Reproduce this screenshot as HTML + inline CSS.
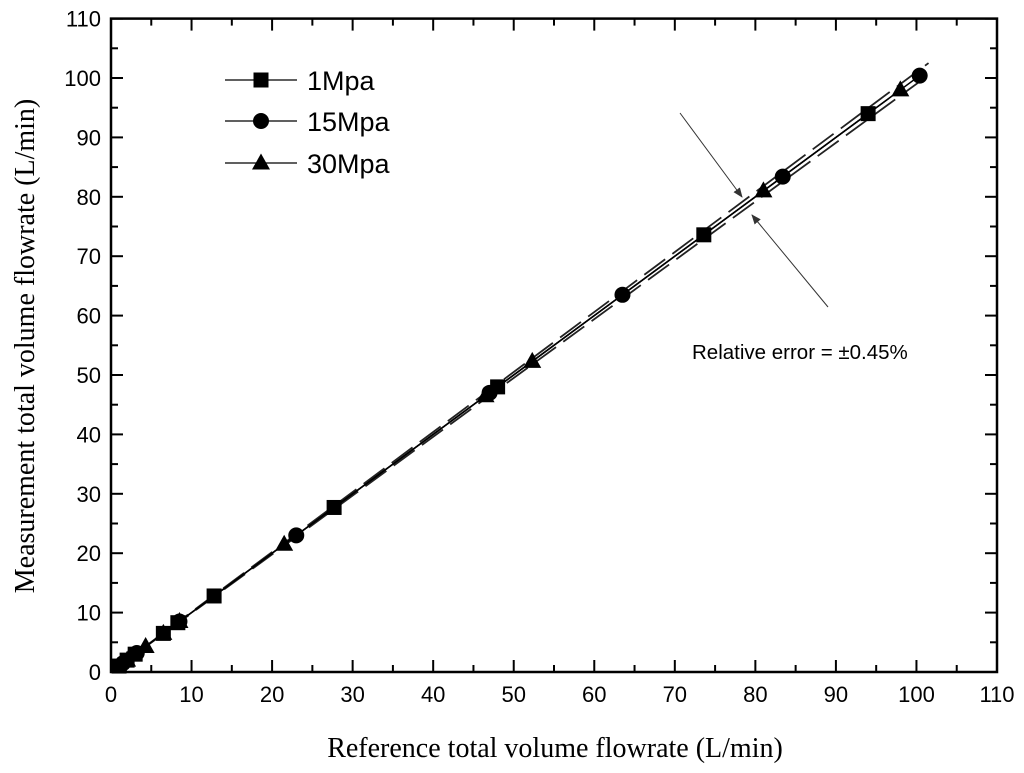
<!DOCTYPE html>
<html><head><meta charset="utf-8"><style>body{margin:0;background:#fff}svg{display:block}</style></head>
<body>
<svg id="c" width="1024" height="773" xmlns="http://www.w3.org/2000/svg"></svg>
<script>
const xTicks=[0,10,20,30,40,50,60,70,80,90,100,110];
const yTicks=[0,10,20,30,40,50,60,70,80,90,100,110];
const s1x=[1,2,3,6.5,8.3,12.8,27.7,48,73.6,94];
const s1y=[1,2,3,6.5,8.3,12.8,27.7,48,73.6,94];
const s2x=[1.5,3.2,8.5,23,47,63.5,83.4,100.4];
const s2y=[1.5,3.2,8.5,23,47,63.5,83.4,100.4];
const s3x=[1,2,4.3,6.5,8.5,21.5,46.5,52.3,81,98];
const s3y=[1,2,4.3,6.5,8.5,21.5,46.5,52.3,81,98];
const errPct=[1.0];
const L=111,R=997,T=18.6,B=672;
const X=v=>L+(R-L)*v/110, Y=v=>B-(B-T)*v/110;
const svg=document.getElementById('c');const NS='http://www.w3.org/2000/svg';
function el(t,a,p){const e=document.createElementNS(NS,t);for(const k in a)e.setAttribute(k,a[k]);(p||svg).appendChild(e);return e;}
let e;
e=el('rect',{x:L,y:T,width:R-L,height:B-T,fill:'none',stroke:'#000','stroke-width':2.5});


xTicks.forEach((v,i)=>{const x=X(v);
 el('line',{x1:x,y1:B,x2:x,y2:B-12,stroke:'#000','stroke-width':2});
 el('line',{x1:x,y1:T,x2:x,y2:T+12,stroke:'#000','stroke-width':2});
 if(i<xTicks.length-1){const xm=X(v+5);el('line',{x1:xm,y1:B,x2:xm,y2:B-7,stroke:'#000','stroke-width':2});el('line',{x1:xm,y1:T,x2:xm,y2:T+7,stroke:'#000','stroke-width':2});}
 const t=el('text',{x:x,y:B+30,'text-anchor':'middle','font-family':'Liberation Sans,sans-serif','font-size':22});t.textContent=v;
 
 
});
yTicks.forEach((v,i)=>{const y=Y(v);
 el('line',{x1:L,y1:y,x2:L+12,y2:y,stroke:'#000','stroke-width':2});
 el('line',{x1:R,y1:y,x2:R-12,y2:y,stroke:'#000','stroke-width':2});
 if(i<yTicks.length-1){const ym=Y(v+5);el('line',{x1:L,y1:ym,x2:L+7,y2:ym,stroke:'#000','stroke-width':2});el('line',{x1:R,y1:ym,x2:R-7,y2:ym,stroke:'#000','stroke-width':2});}
 const t=el('text',{x:L-10,y:y+8,'text-anchor':'end','font-family':'Liberation Sans,sans-serif','font-size':22});t.textContent=v;
 
 
});
const ep=errPct[0]/100;
[1+ep,1-ep].forEach(f=>{e=el('line',{x1:X(0),y1:Y(0),x2:X(101.5),y2:Y(101.5*f),stroke:'#222','stroke-width':1.8,'stroke-dasharray':'26,9'});
 
 });
function poly(xs,ys,name){e=el('polyline',{points:xs.map((v,i)=>X(v)+','+Y(ys[i])).join(' '),fill:'none',stroke:'#000','stroke-width':1.5});
 
 }
poly(s1x,s1y,'series-1mpa-line');poly(s2x,s2y,'series-15mpa-line');poly(s3x,s3y,'series-30mpa-line');
function mark(type,x,y,g){let m;
 if(type==='sq')m=el('rect',{x:x-7.5,y:y-7.5,width:15,height:15,fill:'#000'},g);
 else if(type==='ci')m=el('circle',{cx:x,cy:y,r:8,fill:'#000'},g);
 else m=el('polygon',{points:`${x},${y-9.5} ${x-9},${y+6.5} ${x+9},${y+6.5}`,fill:'#000'},g);
 return m;}
[[s1x,s1y,'sq','1mpa'],[s2x,s2y,'ci','15mpa'],[s3x,s3y,'tr','30mpa']].forEach(([xs,ys,t,n])=>{
 xs.forEach((v,i)=>{const m=mark(t,X(v),Y(ys[i]));
  
  });});
[['sq','1Mpa',80],['ci','15Mpa',121],['tr','30Mpa',163]].forEach(([t,lab,y])=>{
 const g=el('g',{});
 
 
 el('line',{x1:225,y1:y,x2:297,y2:y,stroke:'#000','stroke-width':1.3},g);
 mark(t,261,y,g);
 const tx=el('text',{x:307,y:y+10,'font-family':'Liberation Sans,sans-serif','font-size':27},g);tx.textContent=lab;
});
el('defs',{}).innerHTML='<marker id="ah" markerWidth="10" markerHeight="8" refX="9" refY="4" orient="auto"><polygon points="0,0 10,4 0,8" fill="#333"/></marker>';
e=el('line',{x1:680,y1:113,x2:742,y2:197,stroke:'#333','stroke-width':1,'marker-end':'url(#ah)'});


e=el('line',{x1:828,y1:307,x2:752,y2:215,stroke:'#333','stroke-width':1,'marker-end':'url(#ah)'});


e=el('text',{x:692,y:359,'font-family':'Liberation Sans,sans-serif','font-size':20.5});e.textContent='Relative error = ±0.45%';


e=el('text',{x:555,y:757,'text-anchor':'middle','font-family':'Liberation Serif,serif','font-size':28});e.textContent='Reference total volume flowrate (L/min)';


e=el('text',{x:0,y:0,'text-anchor':'middle','font-family':'Liberation Serif,serif','font-size':28,transform:'translate(34,346) rotate(-90)'});e.textContent='Measurement total volume flowrate (L/min)';


</script>
</body></html>
